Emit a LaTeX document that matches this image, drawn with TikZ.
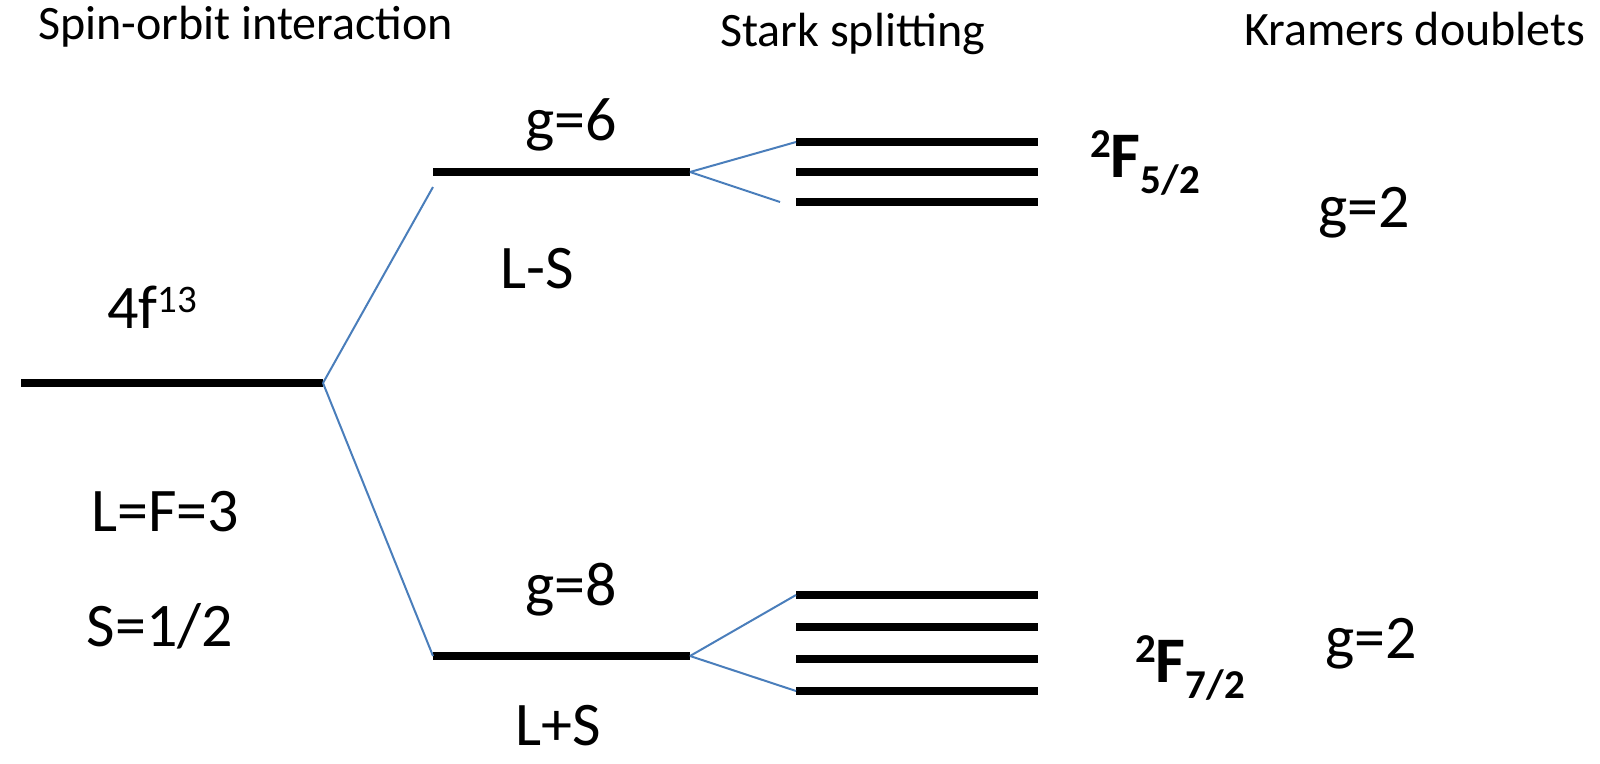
\documentclass[tikz,border=0pt]{standalone}
\usepackage{fontspec}
\setmainfont{Carlito}
\definecolor{linkblue}{HTML}{4A7EBB}
\newcommand\bsup[1]{\raisebox{20pt}{\fontsize{41}{44}\selectfont #1}}
\newcommand\bsub[1]{\raisebox{-16pt}{\fontsize{41}{44}\selectfont #1}}
\newcommand\nsup[1]{\raisebox{16pt}{\fontsize{39}{42}\selectfont #1}}
\begin{document}
\begin{tikzpicture}[x=1pt,y=-1pt,
  lvl/.style={rectangle,fill=black,draw=none,minimum height=8pt,inner sep=0pt,outer sep=0pt},
  conn/.style={draw=linkblue,line width=2pt},
  ttl/.style={font=\fontsize{48}{50}\selectfont,inner sep=0pt,anchor=base west},
  lbl/.style={font=\fontsize{62}{66}\selectfont,inner sep=0pt,anchor=base},
  term/.style={font=\bfseries\fontsize{65}{70}\selectfont,inner sep=0pt,anchor=base west}]
\useasboundingbox (0,0) rectangle (1600,763);

% titles
\node[ttl] (t1) at (38,39) {Spin-orbit interaction};
\node[ttl] (t2) at (720,46) {Stark splitting};
\node[ttl] (t3) at (1244,45) {Kramers doublets};

% levels
\node[lvl,minimum width=302pt] (fl) at (172,383) {};
\node[lvl,minimum width=257pt] (up) at (561.5,172) {};
\node[lvl,minimum width=257pt] (lo) at (561.5,656) {};
\node[lvl,minimum width=242pt] (a1) at (917,142) {};
\node[lvl,minimum width=242pt] (a2) at (917,172) {};
\node[lvl,minimum width=242pt] (a3) at (917,202) {};
\node[lvl,minimum width=242pt] (b1) at (917,595) {};
\node[lvl,minimum width=242pt] (b2) at (917,627) {};
\node[lvl,minimum width=242pt] (b3) at (917,659) {};
\node[lvl,minimum width=242pt] (b4) at (917,691) {};

% connector ends
\coordinate (upin) at (433,187);
\coordinate (a3in) at (780,202);

% connectors
\draw[conn] (fl.east) -- (upin);
\draw[conn] (fl.east) -- (lo.west);
\draw[conn] (up.east) -- (a1.west);
\draw[conn] (up.east) -- (a3in);
\draw[conn] (lo.east) -- (b1.west);
\draw[conn] (lo.east) -- (b4.west);

% labels
\node[lbl] (g6) at (571,140) {g=6};
\node[lbl] (ls) at (537,288) {L-S};
\node[lbl,anchor=base west] (f13) at (107,328) {4f\nsup{13}};
\node[lbl] (lf) at (165,531) {L=F=3};
\node[lbl] (s12) at (160,646) {S=1/2};
\node[lbl] (g8) at (571,605) {g=8};
\node[lbl] (lps) at (558,745) {L+S};
\node[term] (f52) at (1090,177) {\bsup{2}F\bsub{5/2}};
\node[term] (f72) at (1135,682) {\bsup{2}F\bsub{7/2}};
\node[lbl] (k1) at (1364,227) {g=2};
\node[lbl] (k2) at (1371,658) {g=2};
\end{tikzpicture}
\end{document}
